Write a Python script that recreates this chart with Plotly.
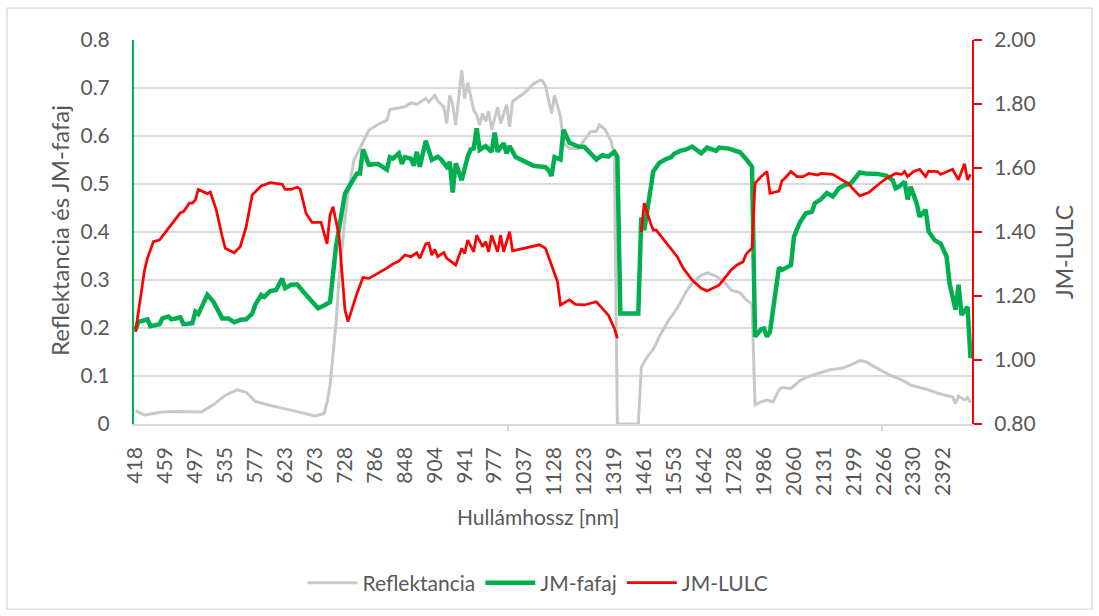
import plotly.graph_objects as go

# ---------------- data ----------------
tick_labels = ["418", "459", "497", "535", "577", "623", "673", "728", "786", "848",
               "904", "941", "977", "1037", "1128", "1223", "1319", "1461", "1553",
               "1642", "1728", "1986", "2060", "2131", "2199", "2266", "2330", "2392"]
label_step = 10      # bands between labelled categories
n_bands = 280        # number of spectral bands (categories)

refl_band = [0, 3, 5, 9, 14, 22, 26, 30, 34, 37, 40, 44, 49, 54, 60, 63, 64, 65, 66, 67,
             68, 69, 70, 71, 72, 73, 75, 78, 81, 84, 85, 87, 90, 92, 94, 97, 98, 100, 101, 103,
             104, 105, 106, 107, 109, 110, 111, 113, 114, 115, 116, 117, 118, 119, 121, 122, 124, 125, 126, 130,
             133, 135, 136, 137, 139, 140, 142, 143, 145, 148, 150, 152, 154, 155, 157, 159, 160, 161, 168, 169,
             171, 173, 174, 175, 178, 181, 184, 186, 189, 191, 194, 197, 199, 202, 204, 206, 207, 209, 211, 213,
             215, 216, 219, 222, 224, 229, 232, 236, 239, 242, 244, 247, 250, 252, 256, 259, 262, 265, 268, 271,
             273, 274, 275, 277, 278, 279]
refl_value = [0.028, 0.019, 0.021, 0.025, 0.026, 0.025, 0.040, 0.060, 0.071, 0.066, 0.047, 0.040, 0.033, 0.026, 0.017, 0.022, 0.045, 0.080, 0.140, 0.210,
              0.300, 0.370, 0.430, 0.480, 0.520, 0.550, 0.575, 0.612, 0.624, 0.633, 0.655, 0.658, 0.661, 0.669, 0.666, 0.678, 0.671, 0.685, 0.673, 0.661,
              0.626, 0.685, 0.665, 0.623, 0.737, 0.678, 0.711, 0.654, 0.644, 0.623, 0.647, 0.630, 0.651, 0.613, 0.660, 0.626, 0.665, 0.619, 0.672, 0.690,
              0.709, 0.716, 0.715, 0.704, 0.647, 0.685, 0.640, 0.585, 0.574, 0.574, 0.592, 0.609, 0.610, 0.623, 0.613, 0.588, 0.557, 0.000, 0.000, 0.118,
              0.140, 0.156, 0.168, 0.182, 0.215, 0.241, 0.276, 0.293, 0.310, 0.315, 0.308, 0.294, 0.279, 0.274, 0.259, 0.250, 0.040, 0.046, 0.050, 0.046,
              0.071, 0.076, 0.074, 0.090, 0.097, 0.108, 0.113, 0.116, 0.123, 0.132, 0.130, 0.119, 0.109, 0.102, 0.092, 0.081, 0.076, 0.071, 0.064, 0.060,
              0.056, 0.043, 0.058, 0.050, 0.055, 0.045]

fafaj_band = [0, 1, 4, 5, 8, 9, 11, 12, 15, 16, 19, 20, 21, 24, 26, 29, 31, 33, 35, 37,
              39, 40, 42, 43, 45, 47, 49, 50, 52, 54, 56, 58, 60, 61, 63, 65, 67, 70, 72, 74,
              75, 76, 78, 81, 84, 85, 86, 88, 89, 90, 92, 93, 94, 95, 97, 99, 101, 102, 104, 105,
              106, 107, 109, 111, 112, 113, 114, 115, 117, 119, 120, 121, 123, 124, 125, 127, 131, 133, 137, 138,
              139, 140, 142, 143, 145, 148, 150, 152, 154, 156, 158, 160, 161, 162, 168, 169, 170, 173, 175, 177,
              179, 180, 182, 184, 186, 189, 191, 194, 195, 198, 202, 204, 206, 207, 209, 210, 211, 212, 215, 216,
              219, 220, 222, 224, 226, 227, 229, 231, 233, 235, 237, 239, 242, 244, 248, 251, 253, 254, 255, 257,
              258, 259, 261, 262, 264, 265, 267, 269, 271, 272, 274, 275, 276, 278, 279]
fafaj_value = [0.196, 0.213, 0.218, 0.204, 0.208, 0.220, 0.224, 0.218, 0.222, 0.208, 0.210, 0.234, 0.229, 0.269, 0.255, 0.220, 0.220, 0.212, 0.217, 0.218,
               0.230, 0.248, 0.269, 0.265, 0.277, 0.279, 0.303, 0.283, 0.290, 0.291, 0.276, 0.262, 0.251, 0.241, 0.247, 0.254, 0.370, 0.480, 0.501, 0.522,
               0.522, 0.572, 0.540, 0.542, 0.530, 0.556, 0.553, 0.564, 0.542, 0.556, 0.553, 0.538, 0.567, 0.536, 0.590, 0.550, 0.557, 0.552, 0.536, 0.546,
               0.482, 0.543, 0.508, 0.557, 0.572, 0.574, 0.616, 0.571, 0.579, 0.567, 0.607, 0.567, 0.585, 0.564, 0.579, 0.556, 0.544, 0.538, 0.535, 0.529,
               0.517, 0.556, 0.551, 0.613, 0.586, 0.578, 0.577, 0.564, 0.551, 0.560, 0.557, 0.567, 0.557, 0.230, 0.230, 0.430, 0.404, 0.526, 0.544, 0.551,
               0.556, 0.563, 0.569, 0.572, 0.578, 0.564, 0.576, 0.569, 0.576, 0.574, 0.566, 0.552, 0.536, 0.182, 0.197, 0.199, 0.182, 0.192, 0.326, 0.321,
               0.331, 0.390, 0.420, 0.439, 0.442, 0.460, 0.468, 0.481, 0.474, 0.491, 0.498, 0.501, 0.524, 0.522, 0.521, 0.517, 0.508, 0.491, 0.494, 0.505,
               0.468, 0.494, 0.460, 0.432, 0.446, 0.401, 0.383, 0.376, 0.349, 0.293, 0.238, 0.290, 0.227, 0.244, 0.137]

lulc_band = [0, 3, 4, 6, 8, 11, 15, 16, 18, 19, 20, 21, 24, 25, 27, 29, 30, 33, 35, 37,
             39, 42, 45, 49, 50, 52, 54, 55, 57, 59, 62, 64, 65, 66, 68, 70, 71, 74, 76, 78,
             82, 84, 86, 88, 90, 92, 94, 95, 97, 98, 99, 100, 101, 103, 104, 107, 109, 110, 111, 113,
             114, 116, 117, 118, 119, 121, 122, 123, 125, 126, 135, 137, 139, 141, 142, 145, 147, 150, 154, 156,
             158, 160, 161, 165, 169, 170, 172, 173, 174, 178, 181, 183, 186, 189, 191, 195, 199, 201, 203, 204,
             206, 207, 209, 211, 212, 215, 216, 217, 219, 221, 223, 225, 228, 229, 233, 236, 238, 242, 245, 248,
             251, 254, 256, 257, 258, 260, 262, 264, 265, 268, 269, 273, 275, 277, 278, 279]
lulc_value = [1.088, 1.280, 1.318, 1.370, 1.375, 1.410, 1.460, 1.463, 1.490, 1.490, 1.500, 1.533, 1.520, 1.525, 1.469, 1.385, 1.349, 1.335, 1.354, 1.417,
              1.516, 1.544, 1.554, 1.549, 1.533, 1.533, 1.540, 1.535, 1.458, 1.430, 1.430, 1.363, 1.453, 1.479, 1.390, 1.156, 1.120, 1.208, 1.258, 1.255,
              1.276, 1.287, 1.300, 1.309, 1.328, 1.323, 1.335, 1.318, 1.363, 1.365, 1.328, 1.346, 1.323, 1.336, 1.318, 1.297, 1.349, 1.333, 1.375, 1.338,
              1.390, 1.354, 1.370, 1.338, 1.390, 1.338, 1.390, 1.338, 1.401, 1.341, 1.360, 1.349, 1.297, 1.245, 1.172, 1.188, 1.174, 1.172, 1.182, 1.161,
              1.140, 1.099, 1.068, None, 1.400, 1.490, 1.430, 1.406, 1.406, 1.360, 1.323, 1.287, 1.250, 1.224, 1.216, 1.234, 1.281, 1.297, 1.307, 1.330,
              1.350, 1.552, 1.573, 1.589, 1.521, 1.528, 1.560, 1.568, 1.589, 1.573, 1.573, 1.583, 1.578, 1.583, 1.580, 1.563, 1.552, 1.513, 1.523, 1.547,
              1.568, 1.583, 1.580, 1.589, 1.573, 1.589, 1.596, 1.573, 1.590, 1.589, 1.580, 1.596, 1.563, 1.613, 1.563, 1.580]

# ---------------- figure ----------------
FONT = "Lato"
TXT = "#595959"
GRID = "#D9D9D9"

W, H = 1099, 616
L, R, T, B = 134, 972, 40, 424   # plot area in pixels


def px_x(x):
    return (x - L) / (R - L)


def px_y(y):
    return (B - y) / (B - T)


fig = go.Figure()
fig.add_trace(go.Scatter(x=refl_band, y=refl_value, name="Reflektancia", mode="lines",
                         line=dict(color="#C8C8C8", width=3)))
fig.add_trace(go.Scatter(x=fafaj_band, y=fafaj_value, name="JM-fafaj", mode="lines",
                         line=dict(color="#00B050", width=4.5)))
fig.add_trace(go.Scatter(x=lulc_band, y=lulc_value, name="JM-LULC", mode="lines", yaxis="y2",
                         connectgaps=False, line=dict(color="#FF0000", width=2.75)))

tickvals = [i * label_step for i in range(len(tick_labels))]

fig.update_layout(
    width=W, height=H,
    margin=dict(l=L, r=W - R, t=T, b=H - B),
    paper_bgcolor="white", plot_bgcolor="white",
    font=dict(family=FONT, size=21, color=TXT),
    showlegend=True,
    legend=dict(orientation="h", x=px_x(538), xanchor="center", y=px_y(583), yanchor="middle",
                font=dict(family=FONT, size=21, color=TXT), itemwidth=50,
                traceorder="normal", tracegroupgap=0),
    xaxis=dict(range=[-0.5, n_bands - 0.5], tickmode="array", tickvals=tickvals, ticktext=tick_labels,
               tickangle=-90, showgrid=False, zeroline=False, showline=True, linecolor=GRID, linewidth=1.5,
               ticks="", ticklabelstandoff=13, tickfont=dict(family=FONT, size=21, color=TXT),
               minor=dict(tickvals=[124.5, 249.5], ticks="outside",
                          ticklen=5, tickcolor=GRID, tickwidth=1.5, showgrid=False),
               automargin=False),
    yaxis=dict(range=[0, 0.8], dtick=0.1, tick0=0, showgrid=True, gridcolor=GRID, gridwidth=1.5,
               zeroline=False, showline=True, linecolor="#00B050", linewidth=2, ticks="",
               ticklabelstandoff=18, tickfont=dict(family=FONT, size=21, color=TXT), automargin=False),
    yaxis2=dict(range=[0.8, 2.0], dtick=0.2, tick0=0.8, tickformat=".2f", overlaying="y", side="right",
                showgrid=False, zeroline=False, showline=True, linecolor="#FF0000", linewidth=2,
                ticks="outside", ticklen=8, tickcolor="#FF0000", tickwidth=2,
                ticklabelstandoff=8, tickfont=dict(family=FONT, size=21, color=TXT), automargin=False),
    annotations=[
        dict(text="Reflektancia és JM-fafaj", xref="paper", yref="paper", x=px_x(59), y=px_y(231),
             textangle=-90, showarrow=False, xanchor="center", yanchor="middle",
             font=dict(family=FONT, size=24, color=TXT)),
        dict(text="JM-LULC", xref="paper", yref="paper", x=px_x(1064), y=px_y(252),
             textangle=-90, showarrow=False, xanchor="center", yanchor="middle",
             font=dict(family=FONT, size=23, color=TXT)),
        dict(text="Hullámhossz [nm]", xref="paper", yref="paper", x=px_x(538), y=px_y(516),
             showarrow=False, xanchor="center", yanchor="middle",
             font=dict(family=FONT, size=21, color=TXT)),
    ],
    shapes=[
        dict(type="rect", xref="paper", yref="paper", layer="below",
             x0=px_x(7), x1=px_x(1092), y0=px_y(8), y1=px_y(609),
             line=dict(color=GRID, width=1.25), fillcolor="rgba(0,0,0,0)"),
    ],
)

fig.write_html("out.html", config={"displayModeBar": False},
               post_script="document.body.style.margin='0px';document.body.style.padding='0px';")
